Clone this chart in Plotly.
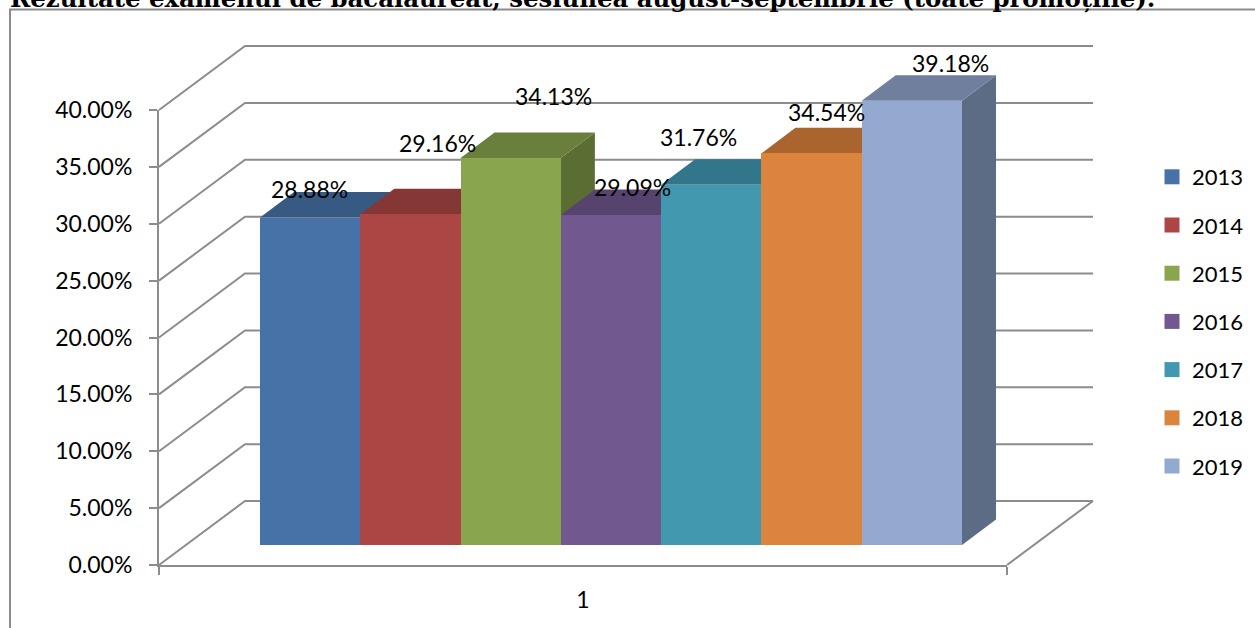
import plotly.graph_objects as go

years = ["2013", "2014", "2015", "2016", "2017", "2018", "2019"]
rates = [0.2888, 0.2916, 0.3413, 0.2909, 0.3176, 0.3454, 0.3918]
category = [1]
axis_ticks = [0, 0.05, 0.10, 0.15, 0.20, 0.25, 0.30, 0.35, 0.40]
title_text = "Rezultate examenul de bacalaureat, sesiunea august-septembrie (toate promoțiile)."

front_colors = ["#4672A8", "#AB4644", "#89A54E", "#71588F", "#4198AF", "#DB843D", "#93A9CF"]
top_colors = ["#375A83", "#853735", "#6B7F3C", "#57446E", "#31768A", "#A9652D", "#717F9F"]
side_colors = ["#2F4D70", "#722F2D", "#5A6D33", "#4B3A5E", "#2A6576", "#905626", "#5D6C85"]
label_shift_x = [-1, 27, 43, 21, -13, 15, 39]
label_shift_y = [29, 71, 62, 28, 48, 41, 38]

W, H = 1255, 628
GREY = "#8C8C8C"
FONT = "Lato"
TEXT_SIZE = 23
PX_X, PX_Y = 702.0, 1134.0   # pixels per axis unit
DEPTH_X, DEPTH_Y = 34 / PX_X, 25.5 / PX_Y
x_range = [1 - 611 / PX_X, 1 + (W - 611) / PX_X]
y_range = [-(H - 545) / PX_Y, 545 / PX_Y]


def px(x):
    return x / W


def py(y):
    return 1 - y / H


fig = go.Figure()

# top and side faces sit on the base axes, beneath the front faces
for i, v in enumerate(rates):
    x0 = 0.5 + i / 7
    x1 = 0.5 + (i + 1) / 7
    fig.add_trace(go.Scatter(
        x=[x1, x1 + DEPTH_X, x1 + DEPTH_X, x1, x1],
        y=[v, v + DEPTH_Y, DEPTH_Y, 0, v],
        mode="lines", fill="toself", fillcolor=side_colors[i],
        line=dict(width=0), hoverinfo="skip", showlegend=False,
        xaxis="x", yaxis="y"))
    fig.add_trace(go.Scatter(
        x=[x0, x1, x1 + DEPTH_X, x0 + DEPTH_X, x0],
        y=[v, v, v + DEPTH_Y, v + DEPTH_Y, v],
        mode="lines", fill="toself", fillcolor=top_colors[i],
        line=dict(width=0), hoverinfo="skip", showlegend=False,
        xaxis="x", yaxis="y"))

# front faces on an overlay pair of axes
for i, v in enumerate(rates):
    fig.add_trace(go.Bar(
        x=category, y=[v], name=years[i], marker=dict(color=front_colors[i], line=dict(width=0)),
        legendgroup=years[i], showlegend=False, xaxis="x2", yaxis="y2"))

# legend entries with larger swatches; also carry the visible axes
for i, yr in enumerate(years):
    fig.add_trace(go.Scatter(
        x=[None], y=[None], name=yr, mode="markers",
        marker=dict(symbol="square", size=15, color=front_colors[i]),
        legendgroup=yr, xaxis="x3", yaxis="y3"))

# walls and floor
shapes = [dict(type="path", xref="paper", yref="paper",
               path=f"M{px(10)},0 L{px(10)},{py(9.5)} L1,{py(9.5)}",
               line=dict(color=GREY, width=2), layer="below")]
for t in axis_ticks:
    y_front = 565 - t * 1137.5
    y_back = y_front - 64
    shapes.append(dict(type="path", xref="paper", yref="paper",
                       path=f"M{px(159)},{py(y_front)} L{px(245)},{py(y_back)} L{px(1093)},{py(y_back)}",
                       line=dict(color=GREY, width=2), layer="below"))
shapes.append(dict(type="line", xref="paper", yref="paper",
                   x0=px(1093), y0=py(501), x1=px(1007), y1=py(565),
                   line=dict(color=GREY, width=2), layer="below"))

annotations = [dict(
    x=1 - 0.5 + (i + 0.5) / 7, y=v, xref="x2", yref="y2", text=f"{v * 100:.2f}%",
    showarrow=False, xshift=label_shift_x[i], yshift=label_shift_y[i],
    xanchor="center", yanchor="middle", font=dict(family=FONT, size=TEXT_SIZE, color="#000000"))
    for i, v in enumerate(rates)]
annotations.append(dict(
    x=px(8), y=1, xref="paper", yref="paper", text=f"<b>{title_text}</b>", showarrow=False,
    xanchor="left", yanchor="middle", yshift=2, font=dict(family="DejaVu Serif", size=24.4, color="#000000")))

hidden = dict(visible=False, showgrid=False, zeroline=False)
fig.update_layout(
    width=W, height=H, autosize=False,
    margin=dict(l=0, r=0, t=0, b=0, pad=0, autoexpand=False),
    paper_bgcolor="white", plot_bgcolor="rgba(0,0,0,0)",
    barmode="group", bargap=0, bargroupgap=0,
    font=dict(family=FONT, size=TEXT_SIZE, color="#000000"),
    shapes=shapes, annotations=annotations,
    xaxis=dict(range=x_range, domain=[0, 1], **hidden),
    yaxis=dict(range=y_range, domain=[0, 1], **hidden),
    xaxis2=dict(range=x_range, domain=[0, 1], overlaying="x", anchor="y2", **hidden),
    yaxis2=dict(range=y_range, domain=[0, 1], overlaying="y", anchor="x2", **hidden),
    xaxis3=dict(domain=[px(159), px(1007)], range=[0.5, 1.5], anchor="y3",
                tickvals=category, ticktext=["1"], ticks="", showgrid=False, zeroline=False,
                showline=True, linecolor=GREY, linewidth=2, ticklabelstandoff=13,
                tickfont=dict(family=FONT, size=TEXT_SIZE),
                minor=dict(tickvals=[0.5, 1.5], ticks="outside", ticklen=8, tickcolor=GREY, tickwidth=2)),
    yaxis3=dict(domain=[py(565), py(110)], range=[0, 0.40], anchor="x3",
                tickvals=axis_ticks, tickformat=".2%", ticks="outside", ticklen=8,
                tickcolor=GREY, tickwidth=2, showgrid=False, zeroline=False,
                showline=True, linecolor=GREY, linewidth=2, ticklabelstandoff=12,
                tickfont=dict(family=FONT, size=TEXT_SIZE)),
    showlegend=True,
    legend=dict(x=px(1152), y=py(156), xanchor="left", yanchor="top",
                bgcolor="rgba(0,0,0,0)", borderwidth=0, tracegroupgap=16.6,
                itemsizing="trace", itemwidth=30, font=dict(family=FONT, size=22)),
)

fig.write_html(
    "out.html",
    config={"displayModeBar": False},
    post_script="document.body.style.margin='0';document.documentElement.style.overflow='hidden';",
)
